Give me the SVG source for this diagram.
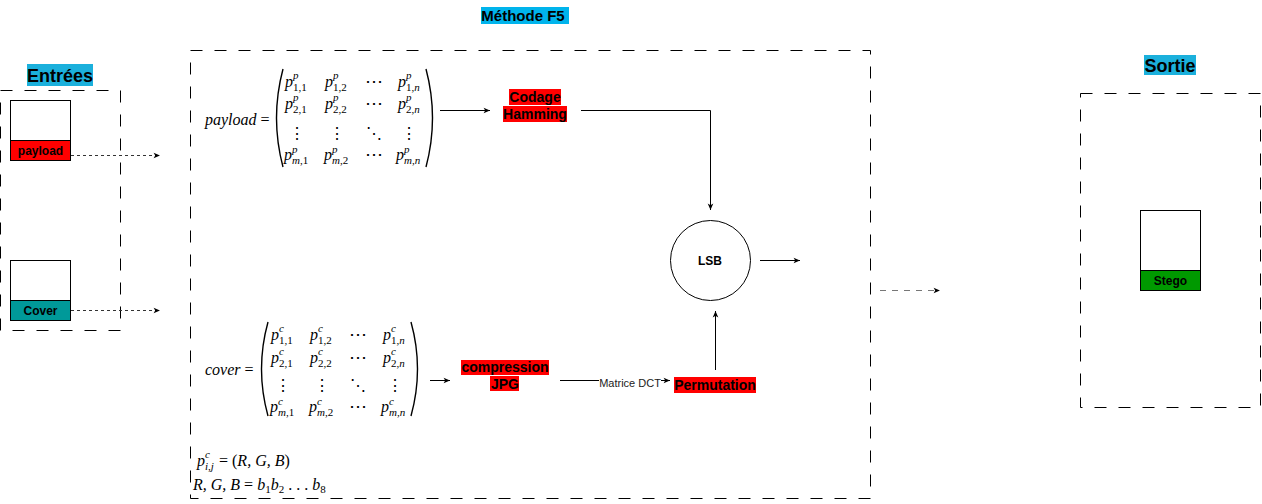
<svg xmlns="http://www.w3.org/2000/svg" width="1262" height="504" viewBox="0 0 1262 504">
  <style>
    .frame { fill: none; stroke: #000; stroke-width: 1; stroke-dasharray: 12 12; }
    .doc { fill: #fff; stroke: #000; stroke-width: 1; }
    .lbl { font-family: "Liberation Sans", Arial, sans-serif; font-weight: bold; text-anchor: middle; fill: #000; }
    .title { font-size: 18px; }
    .box { font-size: 12px; }
    .step { font-size: 14px; }
    .edge { fill: none; stroke: #000; stroke-width: 1; }
    .m { font-family: "Liberation Serif", "DejaVu Serif", serif; font-style: italic; font-size: 16px; fill: #000; }
    .s { font-size: 11px; }
    .up { font-style: normal; }
    .dots { font-family: "DejaVu Serif", serif; font-style: normal; font-size: 18px; text-anchor: middle; }
    .vd { font-size: 16px; }
    .brk { fill: none; stroke: #000; stroke-width: 1.4; }
  </style>
  <defs>
    <marker id="ah" viewBox="0 0 10 10" refX="9" refY="5" markerWidth="8" markerHeight="8" orient="auto" markerUnits="userSpaceOnUse">
      <path d="M1,1.5 L9,5 L1,8.5 L3,5 z" fill="#000"/>
    </marker>
  </defs>

  <rect width="1262" height="504" fill="#fff"/>

  <!-- Inputs -->
  <g id="entrees">
    <rect class="frame" x="0.5" y="90.5" width="120" height="240"/>
    <rect x="27" y="64" width="66" height="22" fill="#1bb0dc"/>
    <text class="lbl title" x="60" y="82">Entrées</text>
  </g>
  <g id="payload">
    <rect class="doc" x="10.5" y="100.5" width="60" height="60"/>
    <rect x="10.5" y="140.5" width="60" height="20" fill="#ff0000" stroke="#000"/>
    <text class="lbl box" x="40.5" y="155">payload</text>
  </g>
  <g id="cover">
    <rect class="doc" x="10.5" y="260.5" width="60" height="60"/>
    <rect x="10.5" y="300.5" width="60" height="20" fill="#009999" stroke="#000"/>
    <text class="lbl box" x="40.5" y="315">Cover</text>
  </g>

  <!-- F5 method frame -->
  <g id="methode-f5">
    <rect class="frame" x="190.5" y="50.5" width="680" height="448"/>
    <rect x="481" y="7" width="88" height="17" fill="#00b4ec"/>
    <text class="lbl" font-size="15" x="523" y="21">Méthode F5</text>
  </g>

  <!-- payload matrix -->
  <g id="payload-matrix">
    <text class="m" x="205" y="125">payload <tspan class="up">=</tspan></text>
    <path class="brk" d="M283,69 Q270,118 283,167"/>
    <path class="brk" d="M426,69 Q439,118 426,167"/>
    <text class="m" x="285" y="87">p<tspan class="s" x="293" dy="-8">p</tspan><tspan class="s up" x="293" dy="12">1,1</tspan></text>
    <text class="m" x="325" y="87">p<tspan class="s" x="333" dy="-8">p</tspan><tspan class="s up" x="333" dy="12">1,2</tspan></text>
    <text class="m dots" x="374" y="87">⋯</text>
    <text class="m" x="398" y="87">p<tspan class="s" x="406" dy="-8">p</tspan><tspan class="s" x="406" dy="12"><tspan class="up">1,</tspan>n</tspan></text>
    <text class="m" x="285" y="109">p<tspan class="s" x="293" dy="-8">p</tspan><tspan class="s up" x="293" dy="12">2,1</tspan></text>
    <text class="m" x="325" y="109">p<tspan class="s" x="333" dy="-8">p</tspan><tspan class="s up" x="333" dy="12">2,2</tspan></text>
    <text class="m dots" x="374" y="109">⋯</text>
    <text class="m" x="398" y="109">p<tspan class="s" x="406" dy="-8">p</tspan><tspan class="s" x="406" dy="12"><tspan class="up">2,</tspan>n</tspan></text>
    <text class="m dots vd" x="297" y="139">⋮</text>
    <text class="m dots vd" x="337" y="139">⋮</text>
    <text class="m dots vd" x="374" y="139">⋱</text>
    <text class="m dots vd" x="409" y="139">⋮</text>
    <text class="m" x="284" y="160">p<tspan class="s" x="292" dy="-7">p</tspan><tspan class="s" x="292" dy="11">m<tspan class="up">,1</tspan></tspan></text>
    <text class="m" x="324" y="160">p<tspan class="s" x="332" dy="-7">p</tspan><tspan class="s" x="332" dy="11">m<tspan class="up">,2</tspan></tspan></text>
    <text class="m dots" x="374" y="160">⋯</text>
    <text class="m" x="396" y="160">p<tspan class="s" x="404" dy="-7">p</tspan><tspan class="s" x="404" dy="11">m<tspan class="up">,</tspan>n</tspan></text>
  </g>

  <!-- cover matrix -->
  <g id="cover-matrix">
    <text class="m" x="205" y="375">cover <tspan class="up">=</tspan></text>
    <path class="brk" d="M268,322 Q255,369 268,416"/>
    <path class="brk" d="M411,322 Q424,369 411,416"/>
    <text class="m" x="271" y="340">p<tspan class="s" x="279" dy="-8">c</tspan><tspan class="s up" x="279" dy="12">1,1</tspan></text>
    <text class="m" x="310" y="340">p<tspan class="s" x="318" dy="-8">c</tspan><tspan class="s up" x="318" dy="12">1,2</tspan></text>
    <text class="m dots" x="358" y="340">⋯</text>
    <text class="m" x="383" y="340">p<tspan class="s" x="391" dy="-8">c</tspan><tspan class="s" x="391" dy="12"><tspan class="up">1,</tspan>n</tspan></text>
    <text class="m" x="271" y="363">p<tspan class="s" x="279" dy="-8">c</tspan><tspan class="s up" x="279" dy="12">2,1</tspan></text>
    <text class="m" x="310" y="363">p<tspan class="s" x="318" dy="-8">c</tspan><tspan class="s up" x="318" dy="12">2,2</tspan></text>
    <text class="m dots" x="358" y="363">⋯</text>
    <text class="m" x="383" y="363">p<tspan class="s" x="391" dy="-8">c</tspan><tspan class="s" x="391" dy="12"><tspan class="up">2,</tspan>n</tspan></text>
    <text class="m dots vd" x="283" y="391">⋮</text>
    <text class="m dots vd" x="322" y="391">⋮</text>
    <text class="m dots vd" x="358" y="391">⋱</text>
    <text class="m dots vd" x="395" y="391">⋮</text>
    <text class="m" x="270" y="412">p<tspan class="s" x="278" dy="-7">c</tspan><tspan class="s" x="278" dy="11">m<tspan class="up">,1</tspan></tspan></text>
    <text class="m" x="309" y="412">p<tspan class="s" x="317" dy="-7">c</tspan><tspan class="s" x="317" dy="11">m<tspan class="up">,2</tspan></tspan></text>
    <text class="m dots" x="358" y="412">⋯</text>
    <text class="m" x="381" y="412">p<tspan class="s" x="389" dy="-7">c</tspan><tspan class="s" x="389" dy="11">m<tspan class="up">,</tspan>n</tspan></text>
  </g>

  <!-- pixel definitions -->
  <g id="pixel-def">
    <text class="m" x="197" y="466">p<tspan class="s" x="205" dy="-8">c</tspan><tspan class="s" x="205" dy="12">i<tspan class="up">,</tspan>j</tspan><tspan x="219" dy="-4"><tspan class="up">= (</tspan>R, G, B<tspan class="up">)</tspan></tspan></text>
    <text class="m" x="193" y="490">R, G, B <tspan class="up">=</tspan> b<tspan class="s up" dy="3">1</tspan><tspan dy="-3">b</tspan><tspan class="s up" dy="3">2</tspan><tspan dy="-3" class="up"> . . . </tspan><tspan>b</tspan><tspan class="s up" dy="3">8</tspan></text>
  </g>

  <!-- processing steps -->
  <g id="codage-hamming">
    <rect x="509" y="89" width="52" height="16" fill="#ff0000"/>
    <rect x="503" y="106" width="64" height="16" fill="#ff0000"/>
    <text class="lbl step" x="535" y="102">Codage</text>
    <text class="lbl step" x="535" y="119">Hamming</text>
  </g>
  <g id="compression-jpg">
    <rect x="461" y="360" width="88" height="15" fill="#ff0000"/>
    <rect x="490" y="376" width="29" height="15" fill="#ff0000"/>
    <text class="lbl step" x="505" y="372">compression</text>
    <text class="lbl step" x="505" y="389">JPG</text>
  </g>
  <g id="permutation">
    <rect x="674" y="377" width="82" height="16" fill="#ff0000"/>
    <text class="lbl step" x="715" y="390">Permutation</text>
  </g>
  <g id="lsb">
    <circle cx="710.5" cy="260.5" r="40" fill="#fff" stroke="#000"/>
    <text class="lbl box" x="710" y="265">LSB</text>
  </g>

  <!-- Output -->
  <g id="sortie">
    <rect class="frame" x="1080.5" y="93.5" width="180" height="314"/>
    <rect x="1144" y="55" width="52" height="20" fill="#1bb0dc"/>
    <text class="lbl title" x="1170" y="72">Sortie</text>
  </g>
  <g id="stego">
    <rect class="doc" x="1140.5" y="210.5" width="60" height="80"/>
    <rect x="1140.5" y="270.5" width="60" height="20" fill="#009900" stroke="#000"/>
    <text class="lbl box" x="1170.5" y="285">Stego</text>
  </g>

  <!-- connectors -->
  <g id="connectors">
    <line x1="71" y1="155.5" x2="160" y2="155.5" stroke="#333" stroke-dasharray="3 3" marker-end="url(#ah)"/>
    <line x1="71" y1="310.5" x2="160" y2="310.5" stroke="#333" stroke-dasharray="3 3" marker-end="url(#ah)"/>
    <line class="edge" x1="440" y1="110.5" x2="490" y2="110.5" marker-end="url(#ah)"/>
    <path class="edge" d="M581,110.5 H710.5 V210" marker-end="url(#ah)"/>
    <line class="edge" x1="760" y1="260.5" x2="800" y2="260.5" marker-end="url(#ah)"/>
    <line class="edge" x1="430" y1="380.5" x2="450" y2="380.5" marker-end="url(#ah)"/>
    <line class="edge" x1="560" y1="380.5" x2="670" y2="380.5" marker-end="url(#ah)"/>
    <rect x="599" y="376" width="62" height="13" fill="#fff"/>
    <text x="630" y="387" font-family="'Liberation Sans', Arial, sans-serif" font-size="11" text-anchor="middle" fill="#222">Matrice DCT</text>
    <line class="edge" x1="715.5" y1="370" x2="715.5" y2="311" marker-end="url(#ah)"/>
    <line x1="880" y1="290.5" x2="940" y2="290.5" stroke="#777" stroke-dasharray="6 6" marker-end="url(#ah)"/>
  </g>
</svg>
